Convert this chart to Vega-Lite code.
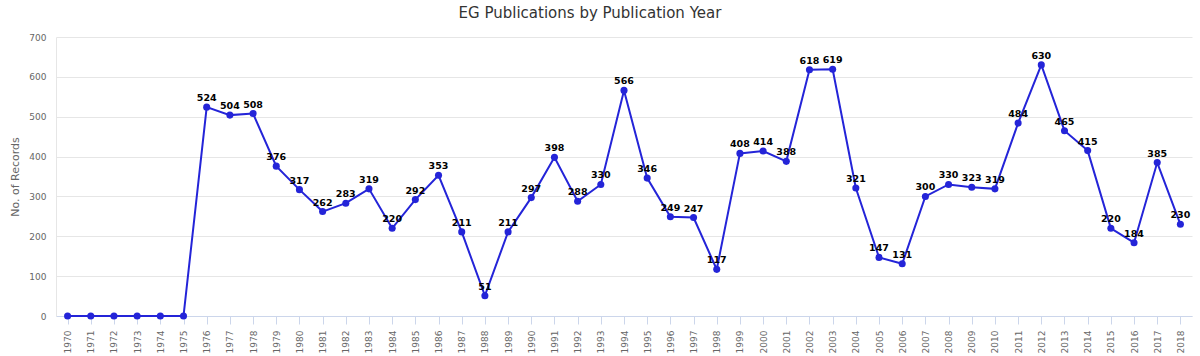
{
  "$schema": "https://vega.github.io/schema/vega-lite/v6.json",
  "autosize": {"type": "none"},
  "width": 1136,
  "height": 279,
  "padding": {"left": 56, "top": 37, "right": 8, "bottom": 40},
  "background": "white",
  "title": {
    "text": "EG Publications by Publication Year",
    "anchor": "middle",
    "dx": -34,
    "offset": 12,
    "font": "DejaVu Sans",
    "fontSize": 15,
    "fontWeight": "normal",
    "color": "#333333"
  },
  "config": {
    "view": {"stroke": null},
    "font": "DejaVu Sans"
  },
  "data": {
    "values": [
      {"year": "1970", "records": 0}, {"year": "1971", "records": 0}, {"year": "1972", "records": 0},
      {"year": "1973", "records": 0}, {"year": "1974", "records": 0}, {"year": "1975", "records": 0},
      {"year": "1976", "records": 524}, {"year": "1977", "records": 504}, {"year": "1978", "records": 508},
      {"year": "1979", "records": 376}, {"year": "1980", "records": 317}, {"year": "1981", "records": 262},
      {"year": "1982", "records": 283}, {"year": "1983", "records": 319}, {"year": "1984", "records": 220},
      {"year": "1985", "records": 292}, {"year": "1986", "records": 353}, {"year": "1987", "records": 211},
      {"year": "1988", "records": 51}, {"year": "1989", "records": 211}, {"year": "1990", "records": 297},
      {"year": "1991", "records": 398}, {"year": "1992", "records": 288}, {"year": "1993", "records": 330},
      {"year": "1994", "records": 566}, {"year": "1995", "records": 346}, {"year": "1996", "records": 249},
      {"year": "1997", "records": 247}, {"year": "1998", "records": 117}, {"year": "1999", "records": 408},
      {"year": "2000", "records": 414}, {"year": "2001", "records": 388}, {"year": "2002", "records": 618},
      {"year": "2003", "records": 619}, {"year": "2004", "records": 321}, {"year": "2005", "records": 147},
      {"year": "2006", "records": 131}, {"year": "2007", "records": 300}, {"year": "2008", "records": 330},
      {"year": "2009", "records": 323}, {"year": "2010", "records": 319}, {"year": "2011", "records": 484},
      {"year": "2012", "records": 630}, {"year": "2013", "records": 465}, {"year": "2014", "records": 415},
      {"year": "2015", "records": 220}, {"year": "2016", "records": 184}, {"year": "2017", "records": 385},
      {"year": "2018", "records": 230}
    ]
  },
  "encoding": {
    "x": {
      "field": "year",
      "type": "ordinal",
      "scale": {"type": "point", "padding": 0.5},
      "axis": {
        "title": null,
        "labelAngle": -90,
        "labelAlign": "right",
        "labelBaseline": "middle",
        "labelColor": "#666666",
        "labelFontSize": 9,
        "labelPadding": 6,
        "domainColor": "#ccd6eb",
        "tickColor": "#ccd6eb",
        "tickSize": 8,
        "grid": false
      }
    },
    "y": {
      "field": "records",
      "type": "quantitative",
      "scale": {"domain": [0, 700]},
      "axis": {
        "title": "No. of Records",
        "titleColor": "#666666",
        "titleFontSize": 11,
        "titleFontWeight": "normal",
        "titlePadding": 8,
        "values": [0, 100, 200, 300, 400, 500, 600, 700],
        "labelColor": "#666666",
        "labelFontSize": 9,
        "labelPadding": 10,
        "ticks": false,
        "domain": true,
        "domainColor": "#e6e6e6",
        "gridColor": "#e6e6e6",
        "gridWidth": 1
      }
    }
  },
  "layer": [
    {
      "mark": {"type": "line", "color": "#2424d8", "strokeWidth": 2}
    },
    {
      "mark": {"type": "point", "filled": true, "color": "#2424d8", "size": 50, "opacity": 1}
    },
    {
      "transform": [{"filter": "datum.records > 0"}],
      "mark": {"type": "text", "dy": -9, "fontSize": 9.5, "fontWeight": "bold", "color": "#000000"},
      "encoding": {"text": {"field": "records", "type": "quantitative"}}
    }
  ]
}
